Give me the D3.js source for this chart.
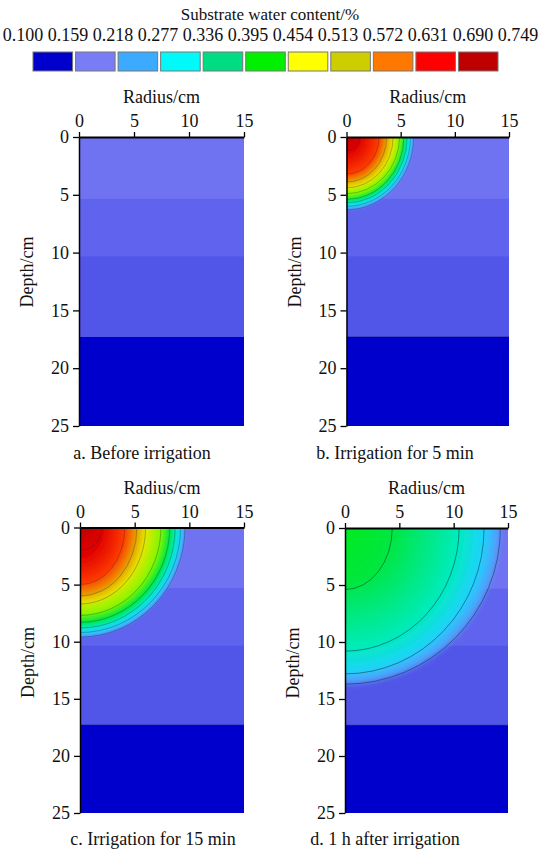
<!DOCTYPE html>
<html>
<head>
<meta charset="utf-8">
<script src="https://cdn.jsdelivr.net/npm/d3@7.9.0/dist/d3.min.js"></script>
<style>
  body { margin: 0; background: #fff; }
</style>
</head>
<body>
<svg id="chart" width="541" height="852" font-family="Liberation Serif"></svg>
<script>
// legend
const legendTicks = [0.100, 0.159, 0.218, 0.277, 0.336, 0.395, 0.454, 0.513, 0.572, 0.631, 0.690, 0.749];
const legendColors = ['#0000cd', '#787df5', '#3caaff', '#00fafa', '#00dc82', '#00f000',
                      '#ffff00', '#cdcd00', '#ff7800', '#ff0000', '#be0000'];

const xTicks = [0, 5, 10, 15];
const yTicks = [0, 5, 10, 15, 20, 25];

// substrate layers (depth in cm) and their water content before the wet bulb
const layerDepth = [0, 5.3, 10.3, 17.3, 25];
const layerValue = [0.184, 0.176, 0.170, 0.128];

// wetting bulb: water content at each contour, its extent along radius and depth (cm)
const levelsB = [0.720, 0.690, 0.631, 0.572, 0.513, 0.454, 0.395, 0.336, 0.277, 0.218];
const radiusB = [0, 1.2, 3.0, 3.7, 4.3, 4.9, 5.3, 5.6, 5.9, 6.2];
const depthB  = [0, 1.2, 3.2, 3.9, 4.4, 4.9, 5.4, 5.7, 6.0, 6.3];

const levelsC = [0.749, 0.690, 0.631, 0.572, 0.513, 0.454, 0.395, 0.336, 0.277, 0.218];
const radiusC = [0, 2.0, 4.1, 5.2, 6.0, 7.4, 8.2, 8.7, 9.2, 9.6];
const depthC  = [0, 2.0, 5.0, 6.0, 6.7, 7.7, 8.3, 8.8, 9.2, 9.6];

const levelsD = [0.410, 0.395, 0.336, 0.277, 0.218];
const radiusD = [0, 4.35, 10.5, 12.8, 14.3];
const depthD  = [0, 5.4, 10.8, 12.8, 13.7];

const captions = ['a. Before irrigation', 'b. Irrigation for 5 min',
                  'c. Irrigation for 15 min', 'd. 1 h after irrigation'];

const panels = [
  { id: 'a', caption: captions[0], levels: [], radius: [], depth: [] },
  { id: 'b', caption: captions[1], levels: levelsB, radius: radiusB, depth: depthB },
  { id: 'c', caption: captions[2], levels: levelsC, radius: radiusC, depth: depthC },
  { id: 'd', caption: captions[3], levels: levelsD, radius: radiusD, depth: depthD }
];

// layout per panel (pixels)
const boxes = {
  a: { x0: 79,  x1: 244, y0: 137,   y1: 426, capX: 142, capY: 459, blur: 0,   front: false, line: 0.3 },
  b: { x0: 346.5, x1: 509, y0: 137, y1: 426, capX: 395, capY: 459, blur: 0.8, front: true,  line: 0.3 },
  c: { x0: 80,  x1: 244, y0: 527.5, y1: 813, capX: 153, capY: 845, blur: 0.8, front: true,  line: 0.35 },
  d: { x0: 345, x1: 508, y0: 528,   y1: 813, capX: 385, capY: 845, blur: 2.6, front: true,  line: 0.55 }
};

const svg = d3.select('#chart');
const defs = svg.append('defs');

const color = d3.scaleLinear()
  .domain(d3.pairs(legendTicks).map(([a, b]) => (a + b) / 2))
  .range(legendColors)
  .clamp(true);

// ---- legend
svg.append('text')
  .attr('x', 270).attr('y', 20)
  .attr('text-anchor', 'middle')
  .attr('font-size', 17)
  .attr('fill', '#111')
  .text('Substrate water content/%');

const tickPos = d3.scalePoint().domain(legendTicks.map(d => d.toFixed(3))).range([23, 518]);
svg.append('g').selectAll('text')
  .data(legendTicks)
  .join('text')
  .attr('x', d => tickPos(d.toFixed(3)))
  .attr('y', 41)
  .attr('text-anchor', 'middle')
  .attr('font-size', 18)
  .attr('fill', '#111')
  .text(d => d.toFixed(3));

const boxPos = d3.scaleBand().domain(d3.range(legendColors.length)).range([33, 498]).paddingInner(0.07);
svg.append('g').selectAll('rect')
  .data(legendColors)
  .join('rect')
  .attr('x', (d, i) => boxPos(i))
  .attr('y', 52)
  .attr('width', boxPos.bandwidth())
  .attr('height', 19)
  .attr('fill', d => d)
  .attr('stroke', '#777')
  .attr('stroke-width', 1);

// ---- panels
function drawPanel(p) {
  const b = boxes[p.id];
  const x = d3.scaleLinear().domain([0, 15]).range([b.x0, b.x1]);
  const y = d3.scaleLinear().domain([0, 25]).range([b.y0, b.y1]);
  const g = svg.append('g');

  defs.append('clipPath').attr('id', 'clip-' + p.id)
    .append('rect')
    .attr('x', b.x0).attr('y', b.y0)
    .attr('width', b.x1 - b.x0).attr('height', b.y1 - b.y0);

  const plot = g.append('g').attr('clip-path', `url(#clip-${p.id})`);

  // background layers
  plot.selectAll('rect.layer')
    .data(d3.pairs(layerDepth))
    .join('rect')
    .attr('class', 'layer')
    .attr('x', x(0))
    .attr('width', x(15) - x(0))
    .attr('y', d => y(d[0]))
    .attr('height', d => y(d[1]) - y(d[0]) + 0.5)
    .attr('fill', (d, i) => color(layerValue[i]));

  if (b.front) {
    plot.append('line')
      .attr('x1', x(0)).attr('x2', x(15))
      .attr('y1', y(layerDepth[3])).attr('y2', y(layerDepth[3]))
      .attr('stroke', '#000050').attr('stroke-opacity', 0.45).attr('stroke-width', 1);
  }

  if (!p.levels.length) return finishAxes(g, p, b, x, y);

  const rings = p.levels.map((v, i) => ({ v, rx: p.radius[i], rz: p.depth[i], i }));
  const outer = rings.slice(1).reverse();

  // gradient per ring, from the inner contour value to its own value
  outer.forEach(r => {
    const inner = rings[r.i - 1];
    const grad = defs.append('radialGradient')
      .attr('id', `grad-${p.id}-${r.i}`)
      .attr('cx', 0.5).attr('cy', 0.5).attr('r', 0.5);
    grad.append('stop').attr('offset', inner.rx / r.rx).attr('stop-color', color(inner.v));
    grad.append('stop').attr('offset', 1).attr('stop-color', color(r.v));
  });

  defs.append('filter').attr('id', 'blur-' + p.id)
    .attr('x', -0.2).attr('y', -0.2).attr('width', 1.4).attr('height', 1.4)
    .append('feGaussianBlur').attr('stdDeviation', b.blur);

  plot.append('g')
    .attr('filter', `url(#blur-${p.id})`)
    .selectAll('ellipse')
    .data(outer)
    .join('ellipse')
    .attr('cx', x(0)).attr('cy', y(0))
    .attr('rx', d => x(d.rx) - x(0))
    .attr('ry', d => y(d.rz) - y(0))
    .attr('fill', d => `url(#grad-${p.id}-${d.i})`);

  // contour lines
  plot.append('g')
    .selectAll('ellipse')
    .data(outer)
    .join('ellipse')
    .attr('cx', x(0)).attr('cy', y(0))
    .attr('rx', d => x(d.rx) - x(0))
    .attr('ry', d => y(d.rz) - y(0))
    .attr('fill', 'none')
    .attr('stroke', '#0a2a2a')
    .attr('stroke-opacity', b.line)
    .attr('stroke-width', 0.9);

  finishAxes(g, p, b, x, y);
}

function finishAxes(g, p, b, x, y) {
  const top = g.append('g')
    .attr('transform', `translate(0,${b.y0})`)
    .call(d3.axisTop(x).tickValues(xTicks).tickSize(5).tickSizeOuter(0).tickPadding(5));
  top.select('.domain').attr('stroke-width', 2);

  const left = g.append('g')
    .attr('transform', `translate(${b.x0},0)`)
    .call(d3.axisLeft(y).tickValues(yTicks).tickSize(6).tickSizeOuter(0).tickPadding(4));
  left.select('.domain').attr('stroke-width', 1.5);

  [top, left].forEach(a => {
    a.attr('font-family', 'Liberation Serif').attr('font-size', 18);
    a.selectAll('.tick line').attr('stroke-width', 1.3);
    a.selectAll('text').attr('fill', '#111');
  });

  g.append('text')
    .attr('x', (b.x0 + b.x1) / 2).attr('y', b.y0 - 34)
    .attr('text-anchor', 'middle')
    .attr('font-size', 18)
    .attr('fill', '#111')
    .text('Radius/cm');

  g.append('text')
    .attr('transform', `translate(${b.x0 - 46},${b.y0 + 135}) rotate(-90)`)
    .attr('text-anchor', 'middle')
    .attr('font-size', 18)
    .attr('fill', '#111')
    .text('Depth/cm');

  g.append('text')
    .attr('x', b.capX).attr('y', b.capY)
    .attr('text-anchor', 'middle')
    .attr('font-size', 18)
    .attr('fill', '#111')
    .text(p.caption);
}

panels.forEach(drawPanel);
</script>
</body>
</html>
